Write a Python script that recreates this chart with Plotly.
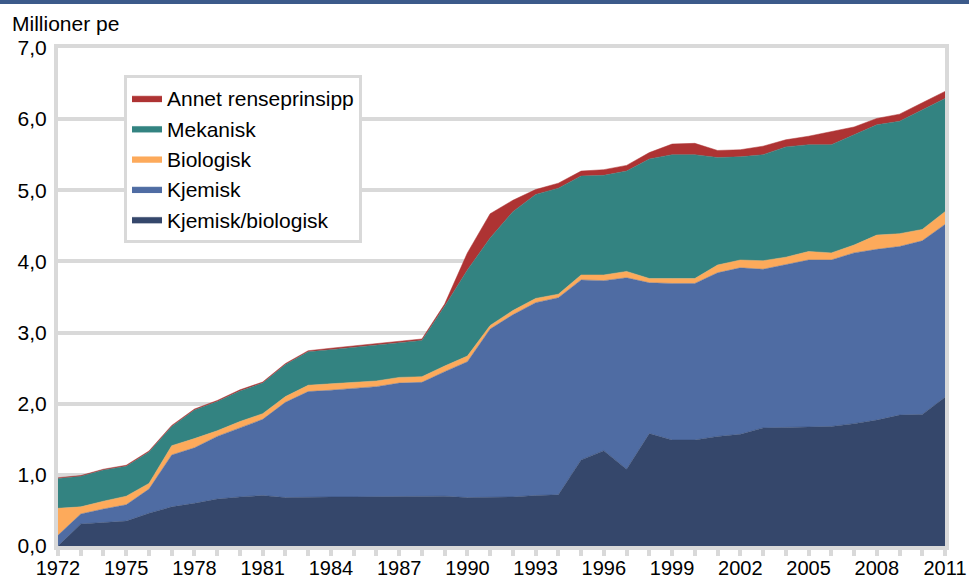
import plotly.graph_objects as go

years = list(range(1972, 2012))

kjemisk_biologisk = [0.00, 0.31, 0.33, 0.35, 0.46, 0.55, 0.60, 0.66, 0.69, 0.71,
                     0.68, 0.69, 0.69, 0.69, 0.69, 0.70, 0.70, 0.70, 0.68, 0.68,
                     0.69, 0.71, 0.72, 1.21, 1.34, 1.08, 1.58, 1.49, 1.49, 1.54,
                     1.57, 1.66, 1.67, 1.68, 1.68, 1.72, 1.77, 1.84, 1.85, 2.09]
kjemisk = [0.15, 0.14, 0.19, 0.23, 0.34, 0.73, 0.78, 0.88, 0.97, 1.07,
           1.34, 1.48, 1.50, 1.53, 1.55, 1.59, 1.60, 1.75, 1.91, 2.37,
           2.56, 2.71, 2.77, 2.53, 2.39, 2.69, 2.12, 2.20, 2.20, 2.30,
           2.34, 2.23, 2.28, 2.34, 2.34, 2.40, 2.40, 2.37, 2.44, 2.43]
biologisk = [0.38, 0.10, 0.11, 0.12, 0.08, 0.13, 0.13, 0.08, 0.09, 0.08,
             0.08, 0.09, 0.09, 0.08, 0.08, 0.08, 0.08, 0.08, 0.08, 0.05,
             0.06, 0.06, 0.05, 0.07, 0.08, 0.09, 0.06, 0.07, 0.07, 0.11,
             0.11, 0.12, 0.11, 0.12, 0.10, 0.11, 0.20, 0.18, 0.16, 0.18]
mekanisk = [0.42, 0.43, 0.44, 0.42, 0.44, 0.27, 0.40, 0.41, 0.43, 0.43,
            0.45, 0.47, 0.48, 0.49, 0.51, 0.49, 0.51, 0.84, 1.21, 1.23,
            1.39, 1.46, 1.49, 1.39, 1.40, 1.41, 1.68, 1.74, 1.74, 1.51,
            1.45, 1.49, 1.55, 1.50, 1.52, 1.55, 1.55, 1.58, 1.68, 1.59]
annet = [0.01, 0.01, 0.01, 0.015, 0.015, 0.015, 0.015, 0.015, 0.015, 0.015,
         0.015, 0.015, 0.02, 0.02, 0.02, 0.02, 0.02, 0.03, 0.24, 0.34,
         0.16, 0.07, 0.07, 0.07, 0.08, 0.08, 0.09, 0.15, 0.16, 0.10,
         0.10, 0.12, 0.10, 0.12, 0.18, 0.11, 0.09, 0.10, 0.10, 0.10]

series = [
    ("Kjemisk/biologisk", kjemisk_biologisk, "#35476b"),
    ("Kjemisk", kjemisk, "#4f6ca3"),
    ("Biologisk", biologisk, "#fdaa5b"),
    ("Mekanisk", mekanisk, "#338381"),
    ("Annet renseprinsipp", annet, "#ae3333"),
]

x_ticks = list(range(1972, 2012, 3))
y_ticks = [0, 1, 2, 3, 4, 5, 6, 7]

fig = go.Figure()
for name, vals, col in series:
    fig.add_trace(go.Scatter(
        x=years, y=vals, name=name, mode="lines",
        stackgroup="one", line=dict(width=0.5, color=col),
        fillcolor=col,
    ))

grid = "#d9d9d9"
W, H = 969, 579
ml, mr, mt, mb = 58, 24, 48, 33
pw = W - ml - mr
ph = H - mt - mb

fig.update_layout(
    width=W, height=H,
    margin=dict(l=ml, r=mr, t=mt, b=mb),
    paper_bgcolor="white", plot_bgcolor="white",
    separators=", ",
    font=dict(family="Arial, Liberation Sans, sans-serif", size=20, color="#000000"),
    showlegend=True,
    legend=dict(
        traceorder="reversed",
        x=(124 - ml) / pw, y=1 - (75 - mt) / ph,
        xanchor="left", yanchor="top",
        bgcolor="white", bordercolor=grid, borderwidth=3,
        font=dict(size=21),
        itemwidth=30,
    ),
    xaxis=dict(
        range=[1972, 2011], tickvals=x_ticks, ticktext=[str(v) for v in x_ticks],
        showgrid=False, zeroline=False, automargin=False,
        showline=True, linecolor=grid, linewidth=4, mirror=True,
        ticks="outside", ticklen=6, tickwidth=4, tickcolor=grid,
        minor=dict(dtick=1, tick0=1972, ticks="outside", ticklen=6, tickwidth=4, tickcolor=grid),
        tickfont=dict(size=20), ticklabelstandoff=-5,
    ),
    yaxis=dict(
        range=[0, 7], tickvals=y_ticks, tickformat=".1f",
        showgrid=True, gridcolor=grid, gridwidth=4,
        zeroline=False, automargin=False,
        showline=True, linecolor=grid, linewidth=4, mirror=True,
        ticks="", tickfont=dict(size=21), ticklabelstandoff=3,
    ),
    annotations=[dict(
        text="Millioner pe", xref="paper", yref="paper",
        x=-(ml - 10) / pw, y=1 + (mt - 10) / ph,
        xanchor="left", yanchor="top", showarrow=False,
        font=dict(size=21),
    )],
    shapes=[dict(
        type="rect", xref="paper", yref="paper",
        x0=-ml / pw, x1=1 + mr / pw,
        y0=1 + (mt - 4) / ph, y1=1 + mt / ph,
        fillcolor="#3c5a8a", line=dict(width=0), layer="above",
    )],
)

fig.write_html("out.html", config={"displayModeBar": False},
               post_script="document.body.style.margin='0';")
